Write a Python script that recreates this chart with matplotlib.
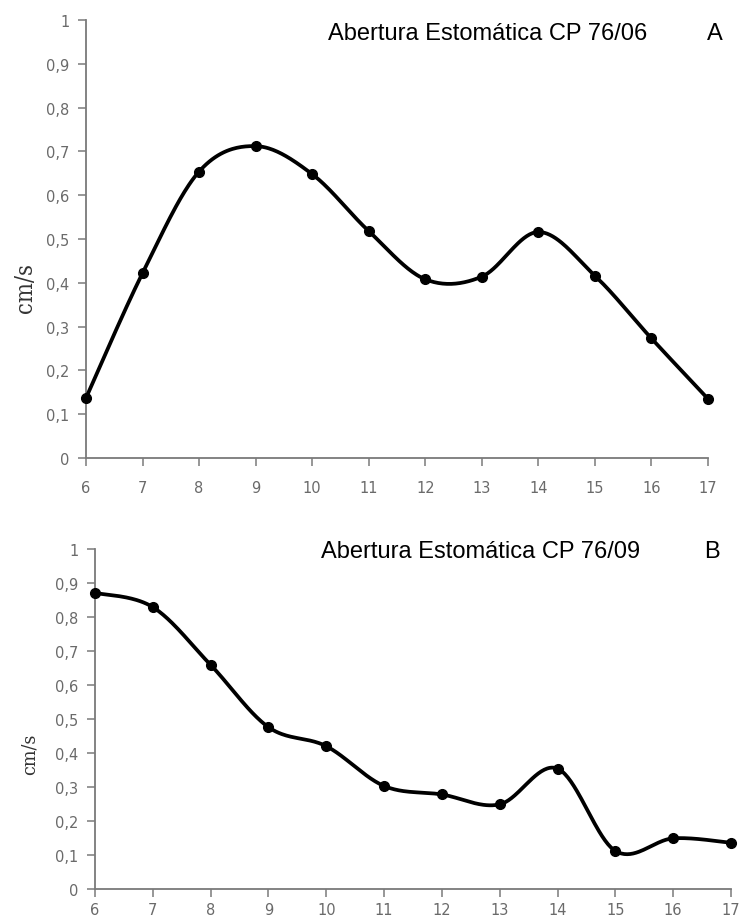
import numpy as np
import matplotlib
matplotlib.use("Agg")
import matplotlib.pyplot as plt
from matplotlib.ticker import FuncFormatter

hours = [6, 7, 8, 9, 10, 11, 12, 13, 14, 15, 16, 17]
values_a = [0.137, 0.422, 0.654, 0.712, 0.648, 0.518, 0.408, 0.414, 0.516, 0.416, 0.273, 0.135]
values_b = [0.871, 0.829, 0.659, 0.476, 0.420, 0.303, 0.278, 0.249, 0.354, 0.112, 0.149, 0.136]
title_a = "Abertura Estomática CP 76/06"
title_b = "Abertura Estomática CP 76/09"
letter_a = "A"
letter_b = "B"
ylabel = "cm/s"
yticks = [0, 0.1, 0.2, 0.3, 0.4, 0.5, 0.6, 0.7, 0.8, 0.9, 1.0]


def smooth(x, y, n=40):
    """Excel-style smoothed line (Catmull-Rom Bezier segments)."""
    x = np.asarray(x, float)
    y = np.asarray(y, float)
    px = np.concatenate([[x[0]], x, [x[-1]]])
    py = np.concatenate([[y[0]], y, [y[-1]]])
    xs, ys = [], []
    t = np.linspace(0, 1, n)
    for i in range(1, len(px) - 2):
        p0 = np.array([px[i], py[i]])
        p3 = np.array([px[i + 1], py[i + 1]])
        c1 = p0 + (np.array([px[i + 1], py[i + 1]]) - np.array([px[i - 1], py[i - 1]])) / 6
        c2 = p3 - (np.array([px[i + 2], py[i + 2]]) - np.array([px[i], py[i]])) / 6
        b = ((1 - t) ** 3)[:, None] * p0 + (3 * (1 - t) ** 2 * t)[:, None] * c1 \
            + (3 * (1 - t) * t ** 2)[:, None] * c2 + (t ** 3)[:, None] * p3
        xs.extend(b[:, 0])
        ys.extend(b[:, 1])
    return np.array(xs), np.array(ys)


fig = plt.figure(figsize=(7.44, 9.2), dpi=100)
ax1 = fig.add_axes([0.1156, 0.5011, 0.836, 0.4761])
ax2 = fig.add_axes([0.1277, 0.0326, 0.8548, 0.3696])

fmt = FuncFormatter(lambda v, p: ("%g" % round(v, 1)).replace(".", ","))
grey = "#7a7a7a"

for ax, vals, title, letter, tx, lx, ty, lab_size, lab_x in [
    (ax1, values_a, title_a, letter_a, 488, 715, 34, 17, 26),
    (ax2, values_b, title_b, letter_b, 481, 712, 552, 14, 30),
]:
    sx, sy = smooth(hours, vals)
    ax.plot(sx, sy, color="black", lw=2.7, solid_capstyle="round", zorder=3, clip_on=False)
    ax.plot(hours, vals, "o", color="black", ms=7, zorder=4, clip_on=False)
    ax.set_xlim(6, 17)
    ax.set_ylim(0, 1)
    ax.set_xticks(hours)
    ax.set_yticks(yticks)
    ax.yaxis.set_major_formatter(fmt)
    for s in ["top", "right"]:
        ax.spines[s].set_visible(False)
    for s in ["left", "bottom"]:
        ax.spines[s].set_color(grey)
        ax.spines[s].set_linewidth(1.3)
    ax.tick_params(axis="both", colors=grey, labelcolor="#6a6a6a", length=6, width=1.1,
                   labelsize=10.5)
    ax.tick_params(axis="y", pad=6)
    ax.tick_params(axis="x", pad=10 if ax is ax1 else 3.5)
    for lbl in ax.get_xticklabels() + ax.get_yticklabels():
        lbl.set_fontfamily("DejaVu Sans")
    ax.patch.set_alpha(0)
    fig.text(tx / 744, 1 - ty / 920, title, ha="center", va="center",
             fontsize=17, family="Liberation Sans", color="black")
    fig.text(lx / 744, 1 - ty / 920, letter, ha="center", va="center",
             fontsize=17, family="Liberation Sans", color="black")
    ybox = ax.get_position()
    fig.text(lab_x / 744, ybox.y0 + ybox.height * (0.39 if ax is ax1 else 0.40), ylabel,
             rotation=90, ha="center", va="center", fontsize=lab_size,
             family="DejaVu Serif", stretch="condensed", color="#333333")

fig.savefig("out.png", dpi=100)
